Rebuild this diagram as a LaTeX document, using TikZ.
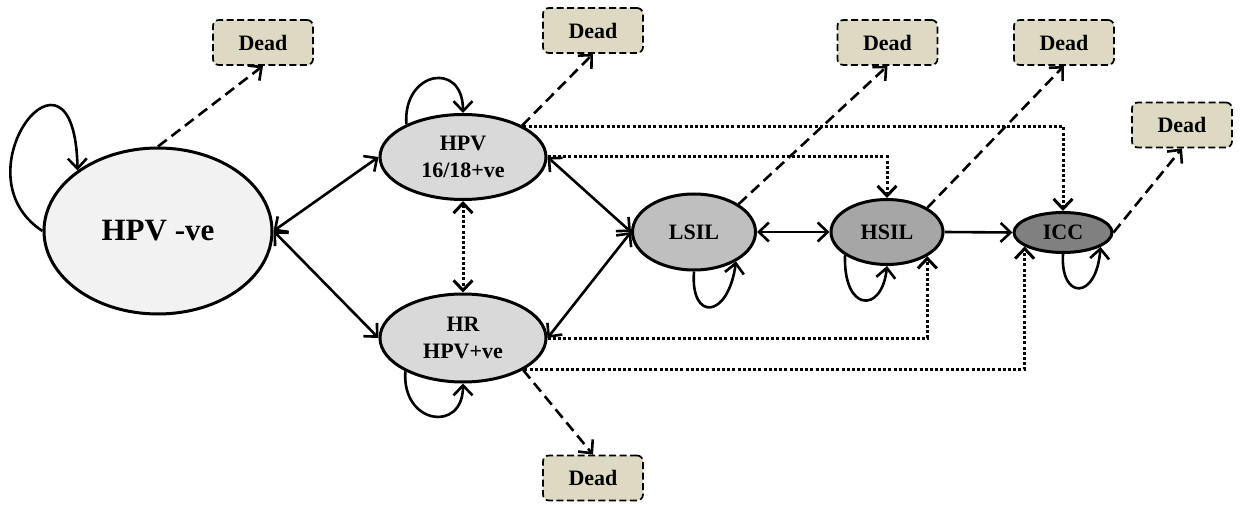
\documentclass[tikz,border=0pt]{standalone}
\usepackage{fontspec}
\setmainfont{Liberation Serif}
\usetikzlibrary{shapes.geometric,arrows.meta}

\definecolor{negfill}{HTML}{F2F2F2}
\definecolor{hpvfill}{HTML}{D9D9D9}
\definecolor{lsilfill}{HTML}{BFBFBF}
\definecolor{hsilfill}{HTML}{A6A6A6}
\definecolor{iccfill}{HTML}{808080}
\definecolor{deadfill}{HTML}{DDD9C3}

\begin{document}
\begin{tikzpicture}[x=1pt,y=-1pt,
  >={Straight Barb[length=10pt,width=19pt]},
  state/.style={ellipse,draw=black,line width=3pt,inner sep=0pt,align=center,
    font=\bfseries\fontsize{22}{27}\selectfont},
  deadbox/.style={rectangle,rounded corners=6pt,draw=black,line width=1.7pt,
    dash pattern=on 7pt off 3.5pt,fill=deadfill,inner sep=0pt,
    minimum width=100pt,minimum height=45pt,
    font=\bfseries\fontsize{22}{27}\selectfont},
  link/.style={line width=2.6pt},
  deathlink/.style={line width=2.6pt,dash pattern=on 11pt off 6pt,->},
  jump/.style={line width=3pt,dash pattern=on 3pt off 2.2pt},
  loop/.style={line width=2.6pt,->}
]
\useasboundingbox (0,0) rectangle (1240,505);

% health states
\node[state,fill=negfill,minimum width=228pt,minimum height=166pt,
      font=\bfseries\fontsize{31}{36}\selectfont] (neg) at (158,231) {HPV -ve};
\node[state,fill=hpvfill,minimum width=166pt,minimum height=85pt] (h16) at (463,157) {HPV\\16/18+ve};
\node[state,fill=hpvfill,minimum width=166pt,minimum height=88pt] (hr) at (463,338) {HR\\HPV+ve};
\node[state,fill=lsilfill,minimum width=123pt,minimum height=76pt] (lsil) at (694,232) {LSIL};
\node[state,fill=hsilfill,minimum width=112pt,minimum height=65pt] (hsil) at (887,232) {HSIL};
\node[state,fill=iccfill,minimum width=98pt,minimum height=40pt] (icc) at (1063,232.5) {ICC};

% absorbing death states
\node[deadbox] (d0) at (263,42.5) {Dead};
\node[deadbox] (d1) at (593,30.5) {Dead};
\node[deadbox] (d2) at (593,478) {Dead};
\node[deadbox] (d3) at (887.5,42.5) {Dead};
\node[deadbox] (d4) at (1064,42.5) {Dead};
\node[deadbox] (d5) at (1182,125) {Dead};

% two-way transitions
\draw[link,<->] (neg.east) -- (h16.west);
\draw[link,<->] (neg.east) -- (hr.west);
\draw[link,<->] (h16.east) -- (lsil.west);
\draw[link,<->] (hr.east) -- (lsil.west);
\draw[link,<->] (lsil.east) -- (hsil.west);
\draw[link,->] (hsil.east) -- (icc.west);

% direct progression (dotted)
\draw[jump,<->] (h16.south) -- (hr.north);
\draw[jump,->] (h16.east) -| (hsil.north);
\draw[jump,->] (h16.27) -| (icc.north);
\draw[jump,->] (hr.east) -| (hsil.-31);
\draw[jump,->] (hr.-27) -| (icc.200);

% death transitions
\draw[deathlink] (neg.north) -- (d0.south);
\draw[deathlink] (h16.28) -- (d1.south);
\draw[deathlink] (hr.-28) -- (d2.north);
\draw[deathlink] (lsil.32) -- (d3.south);
\draw[deathlink] (hsil.31) -- (d4.south);
\draw[deathlink] (icc.east) -- (d5.south);

% staying in the same state
\draw[loop] (neg.west) .. controls +(-88,-57) and +(-3,-151) .. (neg.143);
\draw[loop] (h16.150) .. controls +(-4,-53) and +(0,-53) .. (h16.north);
\draw[loop] (hr.210) .. controls +(-4,53) and +(0,50) .. (hr.south);
\draw[loop] (lsil.south) .. controls +(-4,50) and +(-8,58) .. (lsil.-35);
\draw[loop] (hsil.209) .. controls +(-2,57) and +(-5,48) .. (hsil.south);
\draw[loop] (icc.south) .. controls +(-3,46) and +(-4,54) .. (icc.-21);
\end{tikzpicture}
\end{document}
